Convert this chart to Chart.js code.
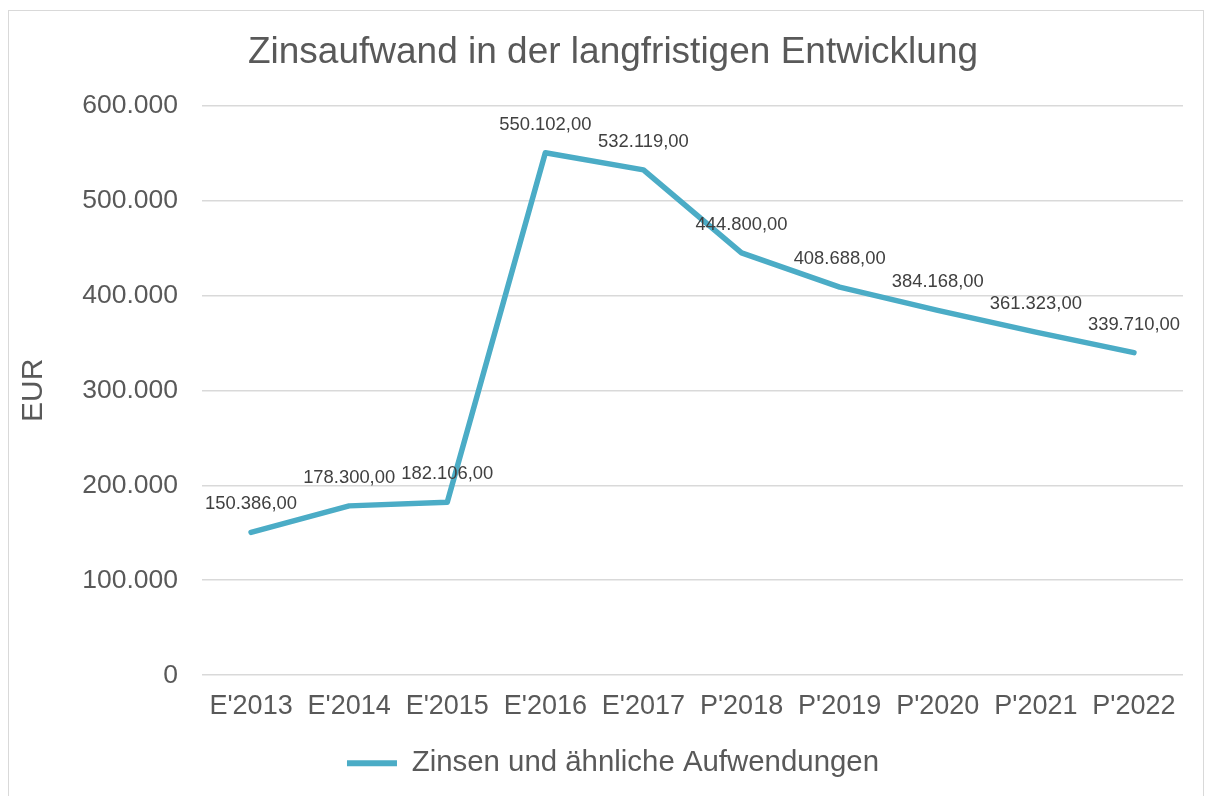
<!DOCTYPE html>
<html lang="de">
<head>
<meta charset="utf-8">
<title>Zinsaufwand in der langfristigen Entwicklung</title>
<script src="https://cdn.jsdelivr.net/npm/chart.js@4.4.1/dist/chart.umd.min.js"></script>
<style>
    html, body {
        margin: 0;
        padding: 0;
        background: #ffffff;
    }

    #frame {
        position: absolute;
        left: 8px;
        top: 10px;
        width: 1196px;
        height: 800px;
        border: 1px solid #d9d9d9;
        box-sizing: border-box;
        pointer-events: none;
    }

    #wrap {
        position: absolute;
        left: 0;
        top: 0;
        width: 1210px;
        height: 796px;
    }
</style>
</head>
<body>
<div id="wrap"><canvas id="zinsChart"></canvas></div>
<div id="frame"></div>

<script>
// ===============================
// DATEN
// ===============================

const categories = ["E'2013", "E'2014", "E'2015", "E'2016", "E'2017", "P'2018", "P'2019", "P'2020", "P'2021", "P'2022"];
const zinsen = [150386, 178300, 182106, 550102, 532119, 444800, 408688, 384168, 361323, 339710];
const yTicks = [0, 100000, 200000, 300000, 400000, 500000, 600000];

const seriesName = "Zinsen und ähnliche Aufwendungen";
const lineColor = "#4bacc6";
const textColor = "#595959";

// Zahlen im deutschen Format: 600.000 bzw. 150.386,00
function thousands(n) {
    return String(Math.round(n)).replace(/\B(?=(\d{3})+(?!\d))/g, ".");
}

function euro(n) {
    const whole = Math.floor(n);
    const cents = Math.round((n - whole) * 100);
    return thousands(whole) + "," + (cents < 10 ? "0" + cents : cents);
}

// ===============================
// WERTE UEBER DEN PUNKTEN
// ===============================

const valueLabels = {
    id: "valueLabels",
    afterDatasetsDraw: function (chart) {
        const ctx = chart.ctx;
        const meta = chart.getDatasetMeta(0);
        const values = chart.data.datasets[0].data;

        ctx.save();
        ctx.font = "18.4px 'Liberation Sans', Arial, sans-serif";
        ctx.fillStyle = "#404040";
        ctx.textAlign = "center";
        ctx.textBaseline = "middle";

        meta.data.forEach(function (point, i) {
            ctx.fillText(euro(values[i]), point.x, point.y - 28);
        });

        ctx.restore();
    }
};

// ===============================
// GRAFIK
// ===============================

Chart.defaults.font.family = "'Liberation Sans', Arial, sans-serif";
Chart.defaults.color = textColor;

// linker Rand so, dass die Legende mittig wie im Original sitzt
const padLeft = 43;

new Chart(document.getElementById("zinsChart"), {
    type: "line",
    data: {
        labels: categories,
        datasets: [
            {
                label: seriesName,
                data: zinsen,
                borderColor: lineColor,
                backgroundColor: lineColor,
                borderWidth: 5.5,
                borderCapStyle: "round",
                borderJoinStyle: "round",
                pointRadius: 0,
                pointHoverRadius: 0,
                tension: 0,
                fill: false
            }
        ]
    },
    options: {
        responsive: true,
        maintainAspectRatio: false,
        animation: false,

        layout: {
            padding: { top: 31, right: 27, bottom: 8, left: padLeft }
        },

        plugins: {
            title: {
                display: true,
                text: "Zinsaufwand in der langfristigen Entwicklung",
                color: textColor,
                font: { size: 37, weight: "normal" },
                padding: { top: 0, bottom: 30 }
            },

            legend: {
                display: true,
                position: "bottom",
                labels: {
                    color: textColor,
                    font: { size: 29.4 },
                    boxWidth: 50,
                    boxHeight: 6,
                    padding: 10,
                    generateLabels: function (chart) {
                        return [{
                            text: seriesName,
                            fillStyle: lineColor,
                            strokeStyle: lineColor,
                            lineWidth: 0,
                            fontColor: textColor,
                            datasetIndex: 0
                        }];
                    }
                }
            },

            tooltip: { enabled: false }
        },

        scales: {
            y: {
                min: 0,
                max: 600000,
                afterBuildTicks: function (scale) {
                    scale.ticks = yTicks.map(function (v) { return { value: v }; });
                },
                afterFit: function (scale) {
                    scale.width = 202 - padLeft;
                },
                title: {
                    display: true,
                    text: "EUR",
                    color: textColor,
                    font: { size: 30 },
                    padding: { top: -27, bottom: 0 }
                },
                ticks: {
                    color: textColor,
                    font: { size: 26.5 },
                    padding: 24,
                    callback: function (value) {
                        return thousands(value);
                    }
                },
                grid: {
                    color: "#d9d9d9",
                    lineWidth: 1.5,
                    drawTicks: false
                },
                border: { display: false }
            },

            x: {
                offset: true,
                afterFit: function (scale) {
                    scale.height = 63.4;
                },
                ticks: {
                    color: textColor,
                    font: { size: 27 },
                    padding: 15,
                    maxRotation: 0,
                    autoSkip: false
                },
                grid: {
                    display: false,
                    drawTicks: false
                },
                border: { display: false }
            }
        }
    },
    plugins: [valueLabels]
});
</script>
</body>
</html>
